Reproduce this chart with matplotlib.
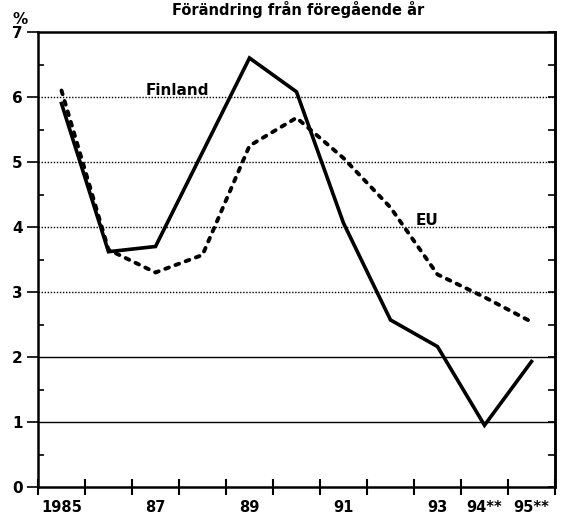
import numpy as np
import matplotlib.pyplot as plt
from matplotlib.ticker import MultipleLocator

plt.rcParams['font.family'] = ['DejaVu Sans']
plt.rcParams['font.weight'] = 'bold'

years = [1985, 1986, 1987, 1988, 1989, 1990, 1991, 1992, 1993, 1994, 1995]
tick_labels = ["1985", "", "87", "", "89", "", "91", "", "93", "94**", "95**"]
finland = [5.9, 3.62, 3.7, 5.15, 6.6, 6.08, 4.06, 2.57, 2.16, 0.95, 1.93]
eu = [6.1, 3.65, 3.3, 3.57, 5.25, 5.68, 5.06, 4.3, 3.27, 2.92, 2.54]
title = "Förändring från föregående år"


def draw():
    fig = plt.figure(figsize=(5.62, 5.23), dpi=100)
    ax = fig.add_axes([38 / 562, 1 - 487 / 523, 517 / 562, 455 / 523])
    x = np.arange(len(years))

    # gridlines: dotted 3-6, solid 1-2
    for g in [3, 4, 5, 6]:
        ax.axhline(g, color="black", lw=1.0, ls=(0, (1, 1.2)), zorder=1)
    for g in [1, 2]:
        ax.axhline(g, color="black", lw=1.0, zorder=1)

    ax.plot(x, finland, color="black", lw=2.6, solid_joinstyle="miter", zorder=3)
    ax.plot(x, eu, color="black", lw=2.8, ls=(0, (1.0, 1.8)),
            dash_capstyle="round", zorder=3)

    ax.text(2.46, 6.1, "Finland", fontsize=11, fontweight="bold",
            ha="center", va="center", zorder=4)
    ax.text(7.78, 4.1, "EU", fontsize=11, fontweight="bold",
            ha="center", va="center", zorder=4)

    ax.set_xlim(-0.5, 10.5)
    ax.set_ylim(0, 7)
    ax.set_xticks(np.arange(-0.5, 10.6, 1.0))
    ax.set_xticklabels([])
    ax.set_xticks(x, minor=True)
    ax.set_xticklabels(tick_labels, minor=True, fontsize=10.5, fontweight="bold")
    ax.tick_params(axis="x", which="major", direction="inout", length=12, width=1.5)
    ax.tick_params(axis="x", which="minor", length=0, pad=9)

    ax.yaxis.set_major_locator(MultipleLocator(1))
    ax.yaxis.set_minor_locator(MultipleLocator(0.5))
    ax.tick_params(axis="y", which="major", direction="out", length=8, width=1.2,
                   labelsize=11, pad=3)
    ax.tick_params(axis="y", which="minor", direction="in", length=4, width=1.2)
    for lab in ax.get_yticklabels():
        lab.set_fontweight("bold")

    # inward ticks on the right frame
    rax = ax.secondary_yaxis("right")
    rax.yaxis.set_major_locator(MultipleLocator(0.5))
    rax.tick_params(axis="y", direction="in", length=5, width=1.2, labelright=False)
    rax.spines["right"].set_linewidth(1.8)

    for s in ax.spines.values():
        s.set_linewidth(1.8)

    ax.text(-0.035, 1.01, "%", transform=ax.transAxes, fontsize=11,
            fontweight="bold", ha="center", va="bottom")
    fig.text(0.53, 0.999, title, fontsize=10.5, fontweight="bold",
             ha="center", va="top")

    fig.savefig("out.png", dpi=100)


if __name__ == "__main__":
    draw()
